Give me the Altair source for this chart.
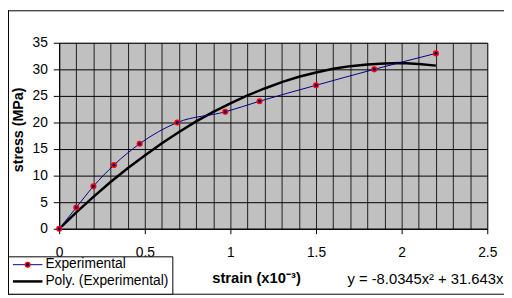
import altair as alt
import pandas as pd

# Experimental data (strain x10^-3, stress MPa)
strain = [0, 0.1, 0.2, 0.32, 0.47, 0.69, 0.97, 1.17, 1.5, 1.84, 2.2]
stress = [0, 4, 8, 12, 16, 20, 22, 24, 27, 30, 33]

# Polynomial trendline
poly_strain = [0, 0.1, 0.2, 0.3, 0.4, 0.5, 0.6, 0.7, 0.8, 0.9, 1.0, 1.1,
               1.2, 1.3, 1.4, 1.5, 1.6, 1.7, 1.8, 1.9, 2.0, 2.1, 2.2]
poly_stress = [0, 3.1, 6.0, 8.8, 11.4, 13.8, 16.1, 18.2, 20.2, 22.0, 23.6, 25.1,
               26.4, 27.6, 28.6, 29.4, 30.1, 30.6, 30.9, 31.1, 31.2, 31.0, 30.7]

x_ticks = [0, 0.5, 1, 1.5, 2, 2.5]
y_ticks = [0, 5, 10, 15, 20, 25, 30, 35]

series_labels = ["Experimental", "Poly. (Experimental)"]
x_title = "strain (x10\u207b\u00b3)"
y_title = "stress (MPa)"
equation = "y = -8.0345x\u00b2 + 31.643x"

FONT = "Liberation Sans"
NAVY = "#000080"
LBL = 14
LEG = 14

exp_df = pd.DataFrame({"strain": strain, "stress": stress})
poly_df = pd.DataFrame({"strain": poly_strain, "stress": poly_stress})

xscale = alt.Scale(domain=[0, 2.5], nice=False)
yscale = alt.Scale(domain=[0, 35], nice=False)

x_main = alt.X("strain:Q", scale=xscale, axis=alt.Axis(
    values=x_ticks, format="~g", grid=False, orient="bottom", tickSize=5,
    labelPadding=12, tickColor="black", domainColor="black",
    labelColor="black", labelFontSize=LBL, labelFont=FONT, title=x_title,
    titleFont=FONT, titleFontSize=15, titleFontWeight="bold", titleX=200,
    titleY=50, titleBaseline="middle", titleAnchor=None, labelFlush=False,
    labelOverlap=False))
y_main = alt.Y("stress:Q", scale=yscale, axis=alt.Axis(
    values=y_ticks, grid=True, gridColor="black", gridWidth=1, gridOpacity=1,
    tickSize=6, labelPadding=6, tickColor="black", domainColor="black",
    labelColor="black", labelFontSize=LBL, labelFont=FONT, title=y_title,
    titleFont=FONT, titleFontSize=14.5, titleFontWeight="bold", titleX=-41,
    titleY=88, titleAngle=270, titleBaseline="middle", titleAnchor=None,
    labelOverlap=False, labelFlush=False))

x_grid = alt.X("strain:Q", scale=xscale, axis=alt.Axis(
    tickCount=25, grid=True, gridColor="black", gridWidth=1, gridOpacity=0.85,
    labels=False, ticks=False, domain=False, title=None, orient="top"))

poly_line = alt.Chart(poly_df).mark_line(color="black", strokeWidth=2.5).encode(
    x=x_grid, y=y_main)

exp_line = alt.Chart(exp_df).mark_line(
    color=NAVY, strokeWidth=1, interpolate="monotone").encode(x=x_main, y=y_main)

exp_pts = alt.Chart(exp_df).mark_point(
    filled=True, shape="circle", size=22, fill=NAVY, stroke="red",
    strokeWidth=1.5, opacity=1).encode(
    x=alt.X("strain:Q", scale=xscale, axis=None), y=y_main)

one = alt.Data(values=[{}])

frame_top = alt.Chart(one).mark_rule(color="black", strokeWidth=1).encode(
    x=alt.value(-52), x2=alt.value(452), y=alt.value(-32.5))
frame_left = alt.Chart(one).mark_rule(color="black", strokeWidth=1).encode(
    x=alt.value(-51.5), y=alt.value(-33), y2=alt.value(256))
frame_bottom = alt.Chart(one).mark_rule(color="black", strokeWidth=1).encode(
    x=alt.value(-52), x2=alt.value(452), y=alt.value(255.5))

eq_text = alt.Chart(one).mark_text(
    font=FONT, fontSize=15, align="left", baseline="middle", color="black").encode(
    x=alt.value(293), y=alt.value(240), text=alt.value(equation))

leg_box = alt.Chart(one).mark_rect(fill="white", stroke="black", strokeWidth=1).encode(
    x=alt.value(-51.5), x2=alt.value(115.5), y=alt.value(217.5), y2=alt.value(255.5))
leg_l1 = alt.Chart(one).mark_rule(color=NAVY, strokeWidth=1).encode(
    x=alt.value(-47), x2=alt.value(-17), y=alt.value(225.5))
leg_p1 = alt.Chart(one).mark_point(
    filled=True, shape="circle", size=22, fill=NAVY, stroke="red",
    strokeWidth=1.5, opacity=1).encode(x=alt.value(-32), y=alt.value(225.5))
leg_l2 = alt.Chart(one).mark_rule(color="black", strokeWidth=2.5).encode(
    x=alt.value(-47), x2=alt.value(-17), y=alt.value(242.5))
leg_t1 = alt.Chart(one).mark_text(
    font=FONT, fontSize=LEG, align="left", baseline="middle", color="black").encode(
    x=alt.value(-14), y=alt.value(225), text=alt.value(series_labels[0]))
leg_t2 = alt.Chart(one).mark_text(
    font=FONT, fontSize=LEG, align="left", baseline="middle", color="black").encode(
    x=alt.value(-14), y=alt.value(242), text=alt.value(series_labels[1]))

chart = alt.layer(
    poly_line, exp_line, exp_pts,
    frame_top, frame_left, frame_bottom, eq_text,
    leg_box, leg_l1, leg_p1, leg_l2, leg_t1, leg_t2,
).resolve_axis(x="independent").properties(
    width=435, height=189,
    background="white",
    autosize=alt.AutoSizeParams(type="none"),
    padding={"left": 52, "top": 33, "right": 17, "bottom": 67},
).configure_view(
    fill="#C0C0C0", stroke="#808080", strokeWidth=1
)

chart.save("out.html", embed_options={"renderer": "svg", "actions": False})
